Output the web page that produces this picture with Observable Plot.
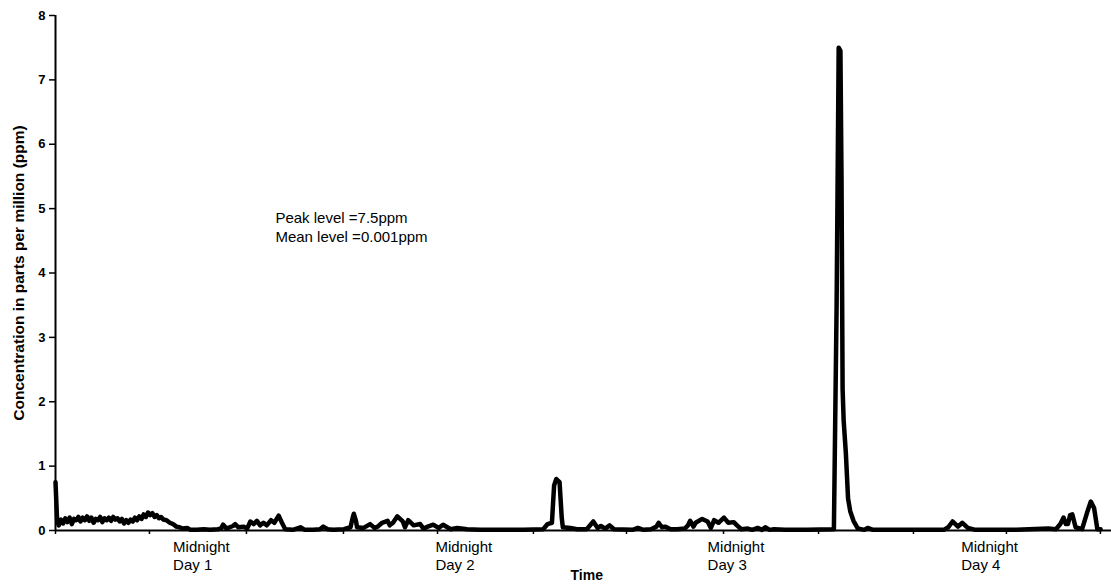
<!DOCTYPE html>
<html><head><meta charset="utf-8">
<script src="https://cdn.jsdelivr.net/npm/d3@7"></script>
<script src="https://cdn.jsdelivr.net/npm/@observablehq/plot@0.6"></script>
<style>html,body{margin:0;padding:0;background:#fff} #chart{width:1111px;height:587px}</style>
</head><body><div id="chart"></div>
<script>
// time in hours from start of record, concentration in ppm
const hours = [0.0,0.15,0.3,0.5,0.7,0.9,1.1,1.3,1.5,1.7,1.9,2.1,2.3,2.5,2.7,2.9,3.1,3.3,3.5,3.7,3.9,4.1,4.3,4.5,4.7,4.9,5.1,5.3,5.5,5.7,5.9,6.1,6.3,6.5,6.7,6.9,7.1,7.3,7.5,7.7,7.9,8.1,8.3,8.5,8.7,8.9,9.1,9.3,9.5,9.7,9.9,10.2,10.5,10.8,11.1,11.4,11.7,12.1,12.4,13.0,13.6,14.2,14.9,15.2,15.4,15.7,16.0,16.3,16.5,16.8,17.3,17.6,17.9,18.2,18.5,18.8,19.1,19.4,19.8,20.1,20.5,20.8,21.1,21.8,22.5,22.9,23.7,24.3,24.6,25.0,25.5,26.5,27.1,27.3,27.4,27.6,27.7,28.3,28.9,29.3,29.6,30.0,30.5,30.7,31.0,31.4,31.9,32.1,32.4,32.9,33.5,33.8,34.2,34.7,35.2,35.6,36.3,36.9,37.8,39,41,43,44.8,45.2,45.6,45.8,46.0,46.3,46.5,46.6,47.3,47.9,48.8,49.4,49.8,50.1,50.5,50.9,51.3,53.0,53.5,54.0,54.7,55.2,55.4,55.7,56.0,56.5,57.1,57.8,58.1,58.3,58.6,58.8,59.4,59.9,60.2,60.5,60.9,61.4,61.8,62.3,62.6,63.0,63.6,64.0,64.5,64.9,65.2,65.6,66.0,67,69,71.5,71.75,71.94,72.1,72.2,72.3,72.4,72.6,72.8,73.0,73.3,73.7,74.3,74.6,75.1,78,81.6,82.0,82.4,82.9,83.3,83.8,84.5,88,91.2,91.9,92.3,92.6,92.8,93.0,93.2,93.4,93.7,94.3,94.8,95.1,95.4,95.7,96.0];
const ppm = [0.75,0.15,0.08,0.17,0.11,0.19,0.13,0.2,0.1,0.18,0.16,0.21,0.14,0.2,0.16,0.22,0.15,0.2,0.12,0.18,0.16,0.21,0.13,0.19,0.16,0.2,0.15,0.21,0.17,0.19,0.14,0.18,0.11,0.16,0.12,0.17,0.14,0.2,0.16,0.22,0.18,0.25,0.21,0.28,0.24,0.27,0.21,0.24,0.19,0.21,0.17,0.16,0.12,0.1,0.06,0.05,0.03,0.04,0.01,0.01,0.02,0.01,0.02,0.03,0.09,0.03,0.05,0.07,0.1,0.05,0.06,0.03,0.14,0.1,0.15,0.08,0.12,0.08,0.16,0.12,0.23,0.12,0.02,0.01,0.05,0.01,0.01,0.02,0.06,0.02,0.01,0.02,0.05,0.2,0.26,0.15,0.05,0.04,0.1,0.04,0.06,0.12,0.15,0.08,0.12,0.22,0.14,0.05,0.16,0.08,0.1,0.03,0.06,0.09,0.04,0.09,0.02,0.04,0.02,0.01,0.01,0.01,0.02,0.1,0.12,0.7,0.8,0.75,0.2,0.05,0.04,0.02,0.02,0.14,0.04,0.07,0.03,0.08,0.02,0.01,0.04,0.01,0.02,0.06,0.12,0.05,0.06,0.02,0.02,0.03,0.08,0.15,0.06,0.12,0.18,0.14,0.04,0.16,0.12,0.2,0.12,0.13,0.08,0.02,0.03,0.01,0.04,0.01,0.05,0.01,0.02,0.01,0.01,0.02,3.5,7.5,7.45,5.5,2.2,1.7,1.2,0.5,0.3,0.15,0.03,0.01,0.04,0.01,0.01,0.01,0.05,0.14,0.06,0.12,0.04,0.01,0.01,0.03,0.02,0.1,0.2,0.1,0.1,0.24,0.25,0.05,0.02,0.3,0.45,0.35,0.02,0.02];

const yTicks = [0,1,2,3,4,5,6,7,8];
const xTickHours = [0,8.63,17.54,26.45,35.09,43.9,52.45,61.36,70.09,78.81,87.35,95.98];
const dayLabels = ["Midnight\nDay 1","Midnight\nDay 2","Midnight\nDay 3","Midnight\nDay 4"];
const dayLabelHours = [10.8,34.9,59.9,83.2];
const notes = ["Peak level =7.5ppm","Mean level =0.001ppm"];
const noteHours = [20.2,20.2];
const noteLevels = [4.85,4.56];
const yTitle = "Concentration in parts per million (ppm)";
const xTitle = "Time";
const xTitleHour = 48.8;

const data = hours.map((h,i) => ({h, v: ppm[i]}));

const chart = Plot.plot({
  width: 1111, height: 587,
  marginLeft: 55, marginRight: 0, marginTop: 15, marginBottom: 57,
  style: {fontFamily: "'Liberation Sans', Arial, sans-serif", background: "#fff", color: "#000"},
  x: {domain: [0, 97]},
  y: {domain: [0, 8]},
  marks: [
    Plot.axisY({ticks: yTicks, tickSize: 6, tickPadding: 4, fontSize: 13, fontWeight: "bold", label: null, strokeWidth: 1.5}),
    Plot.axisX({ticks: xTickHours, tickSize: 4, tickFormat: () => "", label: null, strokeWidth: 1.5}),
    Plot.ruleX([0], {strokeWidth: 2}),
    Plot.ruleY([0], {strokeWidth: 2}),
    Plot.line(data, {x: "h", y: "v", stroke: "#000", strokeWidth: 4.5, strokeLinejoin: "round", strokeLinecap: "round"}),
    Plot.text(dayLabels, {x: dayLabelHours, frameAnchor: "bottom", textAnchor: "start", lineAnchor: "top", dy: 9, fontSize: 15, lineHeight: 1.2}),
    Plot.text(notes, {x: noteHours, y: noteLevels, textAnchor: "start", fontSize: 15}),
    Plot.text([yTitle], {frameAnchor: "left", textAnchor: "middle", rotate: -90, dx: -36, fontWeight: "bold", fontSize: 15.5}),
    Plot.text([xTitle], {x: [xTitleHour], frameAnchor: "bottom", dy: 49, fontWeight: "bold", fontSize: 14})
  ]
});
document.getElementById("chart").appendChild(chart);
</script>
</body></html>
